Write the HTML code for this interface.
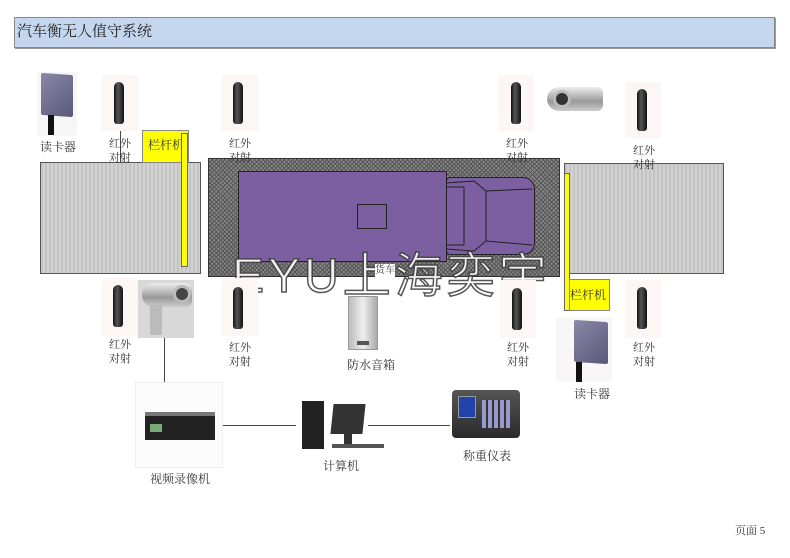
<!DOCTYPE html>
<html><head><meta charset="utf-8"><style>
*{margin:0;padding:0;box-sizing:border-box}
body{width:790px;height:558px;background:#fff;position:relative;overflow:hidden;font-family:"Liberation Serif","Noto Serif CJK SC",serif;color:#222}
.a{position:absolute}
.t{position:absolute;font-size:11px;line-height:14px;color:#333;white-space:nowrap}
.plat{position:absolute;background:repeating-linear-gradient(90deg,#c4c4c4 0 2px,#d2d2d2 2px 4px);border:1px solid #555}
.sens{position:absolute;width:10px;height:42px;border-radius:5px 5px 3px 3px;background:linear-gradient(90deg,#111,#555 40%,#111);}
.sbg{position:absolute;background:#fcf6f5}
.wm{position:absolute;font-family:"Liberation Sans","Noto Sans CJK SC",sans-serif;font-size:48px;color:#fff;-webkit-text-stroke:1.5px #444;letter-spacing:4px;line-height:50px;opacity:.9}
</style></head><body>
<div class="a" style="left:14px;top:17px;width:761px;height:31px;background:#c5d7ef;border:1px solid #888;box-shadow:1px 1px 0 #999"></div>
<div class="t" style="left:17px;top:23px;font-size:15px;line-height:18px;color:#222">汽车衡无人值守系统</div>

<!-- left platform -->
<div class="plat" style="left:40px;top:162px;width:161px;height:112px"></div>
<div class="a" style="left:142px;top:130px;width:47px;height:33px;background:#ffff00;border:1px solid #888"></div>
<div class="t" style="left:148px;top:138px;font-size:12px">栏杆机</div>
<div class="a" style="left:181px;top:133px;width:7px;height:134px;background:#ffff00;border:1px solid #666"></div>
<div class="a" style="left:120px;top:130px;width:1px;height:32px;background:#444"></div>

<!-- scale -->
<div class="a" style="left:208px;top:158px;width:352px;height:119px;border:1px solid #333;background-color:#888;background-image:repeating-linear-gradient(45deg,#555 0 1px,transparent 1px 3px),repeating-linear-gradient(-45deg,#555 0 1px,transparent 1px 3px)"></div>
<div class="a" style="left:446px;top:177px;width:89px;height:78px;background:#7b5fa0;border:1px solid #222;border-radius:4px 12px 12px 4px"></div>
<svg class="a" style="left:446px;top:177px" width="89" height="78"><g stroke="#222" fill="none" stroke-width="1"><path d="M0 6 L28 4 L40 14 L86 12"/><path d="M0 72 L28 74 L40 64 L86 68"/><path d="M18 10 V68"/><path d="M40 14 V64"/><path d="M0 10 L18 10 M0 68 L18 68"/></g></svg>
<div class="a" style="left:238px;top:171px;width:209px;height:91px;background:#7b5fa0;border:1px solid #222"></div>
<div class="a" style="left:357px;top:204px;width:30px;height:25px;border:1px solid #222"></div>

<!-- right platform -->
<div class="plat" style="left:564px;top:163px;width:160px;height:111px"></div>
<div class="a" style="left:564px;top:173px;width:6px;height:138px;background:#ffff00;border:1px solid #666"></div>
<div class="a" style="left:569px;top:279px;width:41px;height:32px;background:#ffff00;border:1px solid #888"></div>
<div class="t" style="left:570px;top:288px;font-size:12px">栏杆机</div>

<!-- watermark -->
<div class="wm" style="left:232px;top:252px">EYU上海奕宇</div>
<div class="t" style="left:375px;top:264px;font-size:10px;background:#fff;color:#333">货车</div>

<!-- sensors -->
<div class="sbg" style="left:102px;top:75px;width:36px;height:56px"></div><div class="sens" style="left:114px;top:82px"></div>
<div class="sbg" style="left:222px;top:75px;width:36px;height:56px"></div><div class="sens" style="left:233px;top:82px"></div>
<div class="sbg" style="left:498px;top:75px;width:36px;height:56px"></div><div class="sens" style="left:511px;top:82px"></div>
<div class="sbg" style="left:625px;top:82px;width:36px;height:56px"></div><div class="sens" style="left:637px;top:89px"></div>
<div class="sbg" style="left:102px;top:278px;width:36px;height:58px"></div><div class="sens" style="left:113px;top:285px"></div>
<div class="sbg" style="left:222px;top:278px;width:36px;height:58px"></div><div class="sens" style="left:233px;top:287px"></div>
<div class="sbg" style="left:500px;top:280px;width:36px;height:58px"></div><div class="sens" style="left:512px;top:288px"></div>
<div class="sbg" style="left:625px;top:280px;width:36px;height:58px"></div><div class="sens" style="left:637px;top:287px"></div>

<div class="t" style="left:109px;top:137px">红外<br>对射</div>
<div class="t" style="left:229px;top:137px">红外<br>对射</div>
<div class="t" style="left:506px;top:137px">红外<br>对射</div>
<div class="t" style="left:633px;top:144px">红外<br>对射</div>
<div class="t" style="left:109px;top:338px">红外<br>对射</div>
<div class="t" style="left:229px;top:341px">红外<br>对射</div>
<div class="t" style="left:507px;top:341px">红外<br>对射</div>
<div class="t" style="left:633px;top:341px">红外<br>对射</div>

<!-- card readers -->
<div class="a" style="left:37px;top:72px;width:40px;height:64px;background:#f6f6f6"></div>
<div class="a" style="left:41px;top:74px;width:32px;height:42px;background:linear-gradient(135deg,#8a88a8,#5a5878);border-radius:2px;transform:skewY(4deg)"></div>
<div class="a" style="left:48px;top:115px;width:6px;height:20px;background:#111"></div>
<div class="t" style="left:40px;top:140px;font-size:12px">读卡器</div>
<div class="a" style="left:556px;top:318px;width:56px;height:64px;background:#f8f6f6"></div>
<div class="a" style="left:574px;top:321px;width:34px;height:42px;background:linear-gradient(135deg,#8a88a8,#5a5878);border-radius:2px;transform:skewY(4deg)"></div>
<div class="a" style="left:576px;top:362px;width:6px;height:20px;background:#111"></div>
<div class="t" style="left:574px;top:387px;font-size:12px">读卡器</div>

<!-- cameras -->
<div class="a" style="left:547px;top:87px;width:56px;height:24px;border-radius:12px 6px 6px 12px;background:linear-gradient(180deg,#eee,#999 60%,#ccc)"></div>
<div class="a" style="left:553px;top:90px;width:18px;height:18px;border-radius:50%;background:#333;border:3px solid #bbb"></div>
<div class="a" style="left:138px;top:280px;width:56px;height:58px;background:#d8d8d8"></div>
<div class="a" style="left:142px;top:283px;width:50px;height:24px;border-radius:12px 6px 6px 12px;background:linear-gradient(180deg,#eee,#999 60%,#ccc)"></div>
<div class="a" style="left:173px;top:285px;width:18px;height:18px;border-radius:50%;background:#444;border:3px solid #bbb"></div>
<div class="a" style="left:150px;top:305px;width:12px;height:30px;background:#bbb"></div>
<div class="a" style="left:164px;top:338px;width:1px;height:45px;background:#444"></div>

<!-- speaker -->
<div class="a" style="left:348px;top:296px;width:30px;height:54px;background:linear-gradient(90deg,#bbb,#eee 50%,#aaa);border:1px solid #999"></div>
<div class="a" style="left:357px;top:341px;width:12px;height:4px;background:#555"></div>
<div class="t" style="left:347px;top:358px;font-size:12px">防水音箱</div>

<!-- recorder -->
<div class="a" style="left:135px;top:382px;width:88px;height:86px;background:#fcfcfc;border:1px solid #eee"></div>
<div class="a" style="left:145px;top:412px;width:70px;height:28px;background:#222;border-top:4px solid #777"></div>
<div class="a" style="left:150px;top:424px;width:12px;height:8px;background:#7a7"></div>
<div class="t" style="left:150px;top:472px;font-size:12px">视频录像机</div>
<div class="a" style="left:223px;top:425px;width:73px;height:1px;background:#444"></div>

<!-- computer -->
<div class="a" style="left:302px;top:401px;width:22px;height:48px;background:#222"></div>
<div class="a" style="left:332px;top:404px;width:32px;height:30px;background:#333;transform:skewX(-6deg)"></div>
<div class="a" style="left:344px;top:434px;width:8px;height:10px;background:#333"></div>
<div class="a" style="left:332px;top:444px;width:52px;height:4px;background:#555"></div>
<div class="t" style="left:323px;top:459px;font-size:12px">计算机</div>
<div class="a" style="left:368px;top:425px;width:82px;height:1px;background:#444"></div>

<!-- indicator -->
<div class="a" style="left:452px;top:390px;width:68px;height:48px;background:linear-gradient(180deg,#555,#2a2a2a);border-radius:4px"></div>
<div class="a" style="left:458px;top:396px;width:18px;height:22px;background:#2244aa;border:1px solid #999"></div>
<div class="a" style="left:482px;top:400px;width:28px;height:28px;background:repeating-linear-gradient(90deg,#99c 0 4px,#333 4px 6px)"></div>
<div class="t" style="left:463px;top:449px;font-size:12px">称重仪表</div>

<div class="t" style="left:735px;top:524px;font-size:11px">页面 5</div>
</body></html>
